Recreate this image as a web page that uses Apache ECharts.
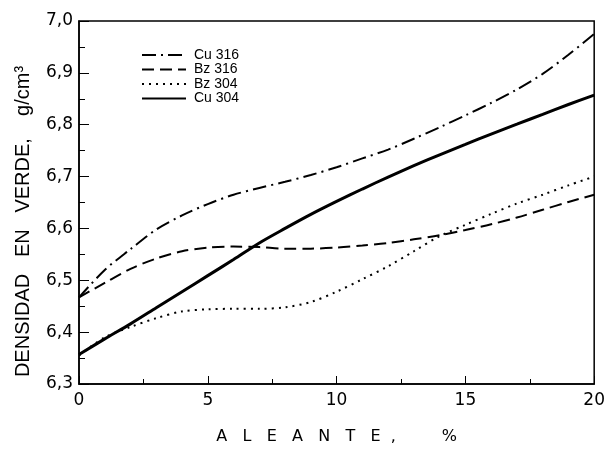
<!DOCTYPE html>
<html>
<head>
<meta charset="utf-8">
<script src="https://cdn.jsdelivr.net/npm/echarts@6/dist/echarts.min.js"></script>
<style>
  html, body { margin: 0; padding: 0; background: #fff; }
  #chart { width: 608px; height: 450px; }
</style>
</head>
<body>
<div id="chart"></div>
<script>
// % aleante
const aleante = [0, 1, 2, 3, 4, 5, 6, 7, 8, 9, 10, 11, 12, 13, 14, 15, 16, 17, 18, 19, 20];

// densidad en verde, g/cm3
const cu316 = [6.467, 6.52, 6.56, 6.598, 6.625, 6.647, 6.665, 6.678, 6.690, 6.703, 6.718, 6.735, 6.752, 6.773, 6.795, 6.818, 6.842, 6.868, 6.898, 6.935, 6.975];
const bz316 = [6.467, 6.495, 6.522, 6.542, 6.556, 6.563, 6.565, 6.564, 6.561, 6.561, 6.563, 6.567, 6.572, 6.579, 6.587, 6.597, 6.608, 6.621, 6.636, 6.651, 6.665];
const bz304 = [6.355, 6.39, 6.41, 6.427, 6.44, 6.444, 6.445, 6.445, 6.448, 6.458, 6.478, 6.502, 6.527, 6.556, 6.585, 6.607, 6.628, 6.648, 6.665, 6.683, 6.70];
const cu304 = [6.357, 6.387, 6.416, 6.447, 6.478, 6.509, 6.54, 6.572, 6.60, 6.627, 6.652, 6.676, 6.699, 6.721, 6.742, 6.762, 6.782, 6.801, 6.82, 6.839, 6.857];

const FONT = "DejaVu Sans";
const chart = echarts.init(document.getElementById("chart"));

function pairs(ys) { return aleante.map((x, i) => [x, ys[i]]); }

function line(name, ys, width, type) {
  return {
    name, type: "line", data: pairs(ys), smooth: 0.3,
    symbol: "none", showSymbol: false,
    itemStyle: { color: "#000" },
    lineStyle: { color: "#000", width, type }
  };
}

chart.setOption({
  animation: false,
  grid: { left: 79, top: 21, right: 12, bottom: 58, show: true, borderColor: "#000", borderWidth: 1.5 },
  legend: {
    orient: "vertical", left: 136, top: 43,
    itemWidth: 44, itemHeight: 14, itemGap: 0.5,
    itemStyle: { opacity: 0 },
    data: ["Cu 316", "Bz 316", "Bz 304", "Cu 304"],
    textStyle: { color: "#000", fontFamily: "Liberation Sans", fontSize: 14, padding: [0, 0, 0, 3] }
  },
  xAxis: {
    type: "value", min: 0, max: 20, interval: 5,
    name: "A   L   E   A   N   T   E  ,         %",
    nameLocation: "middle", nameGap: 45,
    nameTextStyle: { color: "#000", fontFamily: FONT, fontSize: 16 },
    axisLine: { lineStyle: { color: "#000", width: 1.5 } },
    axisTick: { inside: true, length: 8, lineStyle: { color: "#000" } },
    minorTick: { show: true, splitNumber: 2, length: 5, lineStyle: { color: "#000" } },
    axisLabel: { color: "#000", fontFamily: FONT, fontSize: 17, margin: 8 },
    splitLine: { show: false }
  },
  yAxis: {
    type: "value", min: 6.3, max: 7.0, interval: 0.1,
    name: "DENSIDAD   EN   VERDE,    g/cm³",
    nameLocation: "middle", nameGap: 46,
    nameTextStyle: { color: "#000", fontFamily: "Liberation Sans", fontSize: 20, padding: [0, 0, 0, -38] },
    axisLine: { lineStyle: { color: "#000", width: 1.5 } },
    axisTick: { inside: true, length: 10, lineStyle: { color: "#000" } },
    minorTick: { show: true, splitNumber: 2, length: 6, lineStyle: { color: "#000" } },
    axisLabel: {
      color: "#000", fontFamily: FONT, fontSize: 17, margin: 6,
      formatter: v => v.toFixed(1).replace(".", ",")
    },
    splitLine: { show: false }
  },
  series: [
    line("Cu 316", cu316, 2, [14, 5, 2, 5]),
    line("Bz 316", bz316, 2, [12, 6]),
    line("Bz 304", bz304, 2, [2, 5]),
    line("Cu 304", cu304, 3, "solid")
  ]
});
</script>
</body>
</html>
